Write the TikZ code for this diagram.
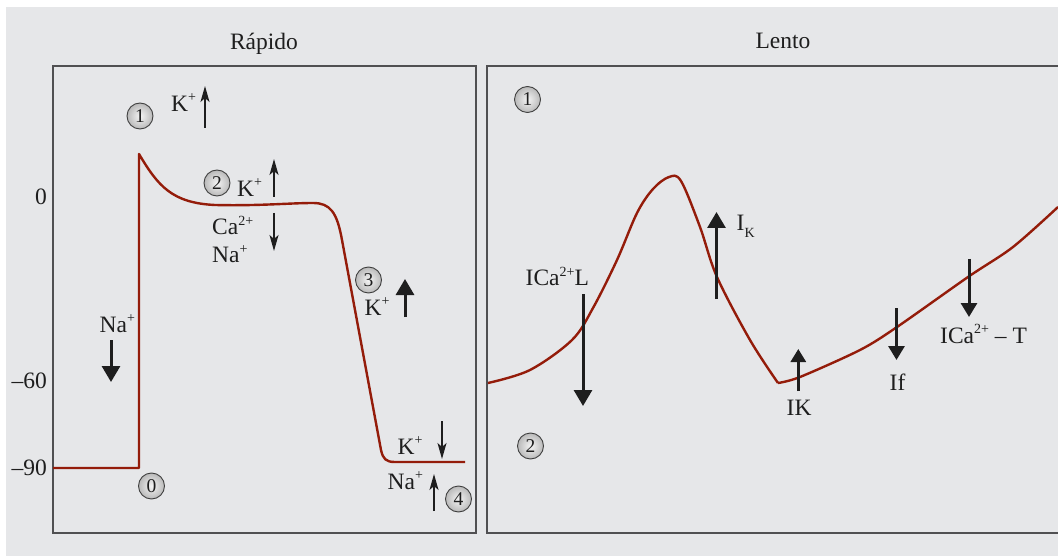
\documentclass[tikz,border=0pt]{standalone}
\usepackage{fontspec}
\setmainfont{Liberation Serif}
\usetikzlibrary{arrows.meta}
\definecolor{bg}{RGB}{230,231,233}
\definecolor{frame}{RGB}{80,80,82}
\definecolor{curve}{RGB}{148,28,10}
\definecolor{ink}{RGB}{30,30,30}
\newcommand{\spp}[1]{\raisebox{0.42em}{\fontsize{14}{14}\selectfont #1}}
\newcommand{\sbb}[1]{\raisebox{-0.28em}{\fontsize{14}{14}\selectfont #1}}
\tikzset{
  lbl/.style={anchor=base west, inner sep=0pt, text=ink, font=\fontsize{23.5}{26}\selectfont},
  ttl/.style={anchor=base, inner sep=0pt, text=ink, font=\fontsize{23.5}{26}\selectfont},
  ax/.style={anchor=base east, inner sep=0pt, text=ink, font=\fontsize{23.5}{26}\selectfont},
  badge/.style={circle, draw=black!75, line width=0.9pt, inner color=white!92!gray, outer color=gray!55,
    minimum size=26pt, inner sep=0pt, text=ink, font=\fontsize{19.5}{19.5}\selectfont},
  thinarrow/.style={draw=ink, line width=1.3pt, -{Stealth[length=16pt,width=9pt,inset=4pt]}},
  thickarrow/.style={draw=ink, line width=3pt, -{Triangle[length=16pt,width=18pt]}},
  ap/.style={draw=curve, line width=2.4pt, line join=round},
  panel/.style={draw=frame, line width=1.5pt}
}
\begin{document}
\begin{tikzpicture}[x=1pt,y=-1pt]
\useasboundingbox (0,0) rectangle (1058,556);
\fill[bg] (6,7) rectangle (1058,556);
% panels
\draw[panel] (53,66) rectangle (476,533);
\draw[panel] (1060,66) -- (487,66) -- (487,533) -- (1060,533);
% titles
\node[ttl] (t1) at (264,49.5) {Rápido};
\node[ttl] (t2) at (783,49) {Lento};
% axis labels
\node[ax] (y0) at (47,205) {0};
\node[ax] (y60) at (47,388) {–60};
\node[ax] (y90) at (47,475) {–90};
% fast action potential
\draw[ap] (53,468) -- (139,468) -- (139,154)
  .. controls (158,186) and (172,203) .. (215,205)
  .. controls (260,206) and (290,203) .. (313,203)
  .. controls (330,203) and (337,212) .. (342,240)
  -- (381,450)
  .. controls (383,459) and (386,462) .. (395,462)
  -- (465,462);
% slow action potential
\draw[ap] plot[smooth, tension=0.55] coordinates {(488,383) (530,370) (572,340) (593,308) (617,260) (637,213) (653,189) (669,177) (681,181) (700,227) (717,277) (750,340) (778,383)};
\draw[ap] plot[smooth, tension=0.5] coordinates {(778,383) (800,377) (860,350) (897,327) (968,277) (1013,247) (1058,207)};
% badges left
\node[badge] (b1) at (140,116) {1};
\node[badge] (b2) at (217,183) {2};
\node[badge] (b3) at (368.5,280) {3};
\node[badge] (b0) at (151.5,486) {0};
\node[badge] (b4) at (458.5,499) {4};
% badges right
\node[badge] (r1) at (527.5,99.5) {1};
\node[badge] (r2) at (530.5,446) {2};
% left labels
\node[lbl] (k1) at (171,111.5) {K\spp{+}};
\node[lbl] (k2) at (237,196.5) {K\spp{+}};
\node[lbl] (ca) at (212,235) {Ca\spp{2+}};
\node[lbl] (na2) at (212,263) {Na\spp{+}};
\node[lbl] (k3) at (364.5,315.5) {K\spp{+}};
\node[lbl] (na0) at (99.5,332) {Na\spp{+}};
\node[lbl] (k4) at (397.5,454) {K\spp{+}};
\node[lbl] (na4) at (387.5,489) {Na\spp{+}};
% right labels
\node[lbl] (icl) at (525.5,286) {ICa\spp{2+}L};
\node[lbl] (ik) at (736.5,230.5) {I\sbb{K}};
\node[lbl] (ik2) at (786.5,415) {IK};
\node[lbl] (if) at (889.5,390) {If};
\node[lbl] (ict) at (940,343) {ICa\spp{2+} – T};
% arrow coordinates
\coordinate (a1s) at (205,128);   \coordinate (a1e) at (205,86);
\coordinate (a2s) at (274,197);   \coordinate (a2e) at (274,159);
\coordinate (a3s) at (274,213);   \coordinate (a3e) at (274,251);
\coordinate (a4s) at (405,317);   \coordinate (a4e) at (405,279);
\coordinate (a5s) at (111,340);   \coordinate (a5e) at (111,382);
\coordinate (a6s) at (442,421);   \coordinate (a6e) at (442,459);
\coordinate (a7s) at (434,511);   \coordinate (a7e) at (434,474);
\coordinate (a8s) at (583,294);   \coordinate (a8e) at (583,406);
\coordinate (a9s) at (716.5,299); \coordinate (a9e) at (716.5,212);
\coordinate (a10s) at (798.3,391);\coordinate (a10e) at (798.3,349);
\coordinate (a11s) at (896.5,308);\coordinate (a11e) at (896.5,360);
\coordinate (a12s) at (969,259);  \coordinate (a12e) at (969,317);
% arrows
\draw[thinarrow] (a1s) -- (a1e);
\draw[thinarrow] (a2s) -- (a2e);
\draw[thinarrow] (a3s) -- (a3e);
\draw[thickarrow] (a4s) -- (a4e);
\draw[thickarrow] (a5s) -- (a5e);
\draw[thinarrow] (a6s) -- (a6e);
\draw[thinarrow] (a7s) -- (a7e);
\draw[thickarrow] (a8s) -- (a8e);
\draw[thickarrow] (a9s) -- (a9e);
\draw[thickarrow, -{Triangle[length=13pt,width=15pt]}] (a10s) -- (a10e);
\draw[thickarrow, -{Triangle[length=14pt,width=16pt]}] (a11s) -- (a11e);
\draw[thickarrow, -{Triangle[length=14pt,width=16pt]}] (a12s) -- (a12e);
\end{tikzpicture}
\end{document}
